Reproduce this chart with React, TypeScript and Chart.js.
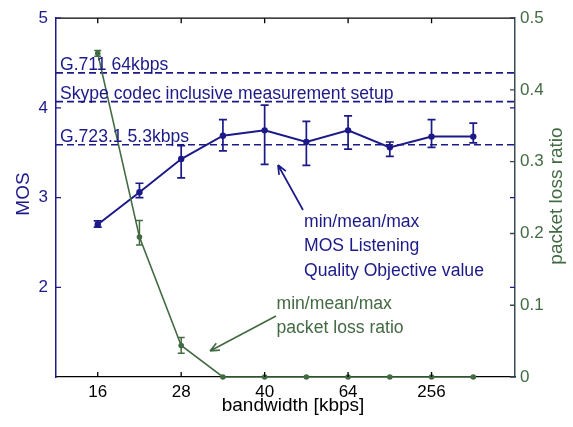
import React, { useEffect, useRef } from "react";
import { Chart, registerables } from "chart.js";
Chart.register(...registerables);

const categories = ["16", "", "28", "", "40", "", "64", "", "256", ""];
const labeledIdx = [0, 2, 4, 6, 8];
const mosMean = [2.7, 3.06, 3.43, 3.69, 3.75, 3.62, 3.75, 3.56, 3.68, 3.68];
const mosMin = [2.67, 3.0, 3.22, 3.52, 3.37, 3.36, 3.54, 3.46, 3.56, 3.61];
const mosMax = [2.74, 3.16, 3.58, 3.87, 4.03, 3.85, 3.91, 3.62, 3.87, 3.83];
const lossMean = [0.451, 0.195, 0.044, 0, 0, 0, 0, 0, 0, 0];
const lossMin = [0.447, 0.184, 0.033, 0, 0, 0, 0, 0, 0, 0];
const lossMax = [0.455, 0.218, 0.055, 0, 0, 0, 0, 0, 0, 0];
const refLabels = ["G.711 64kbps", "Skype codec inclusive measurement setup", "G.723.1 5.3kbps"];
const refLevels = [4.39, 4.07, 3.59];
const mosTicks = [2, 3, 4, 5];
const lossTicks = [0, 0.1, 0.2, 0.3, 0.4, 0.5];

const NAVY = "#1c1a88";
const GREEN = "#436b43";
const SLATE = "#3a4a52";
const FONT = "'Liberation Sans', Arial, sans-serif";

function arrow(ctx: CanvasRenderingContext2D, x0: number, y0: number, x1: number, y1: number, color: string) {
  ctx.save();
  ctx.strokeStyle = color;
  ctx.lineWidth = 1.7;
  ctx.beginPath();
  ctx.moveTo(x0, y0);
  ctx.lineTo(x1, y1);
  const a = Math.atan2(y1 - y0, x1 - x0);
  const L = 10;
  ctx.moveTo(x1, y1);
  ctx.lineTo(x1 - L * Math.cos(a - 0.4), y1 - L * Math.sin(a - 0.4));
  ctx.moveTo(x1, y1);
  ctx.lineTo(x1 - L * Math.cos(a + 0.4), y1 - L * Math.sin(a + 0.4));
  ctx.stroke();
  ctx.restore();
}

const decor = {
  id: "decor",
  afterDatasetsDraw(chart: any) {
    const { ctx } = chart;
    const xs = chart.scales.x, ys = chart.scales.y, y1s = chart.scales.y1;
    const drawErr = (mins: number[], maxs: number[], scale: any, color: string, cap: number, lw: number) => {
      ctx.save();
      ctx.strokeStyle = color;
      ctx.lineWidth = lw;
      mins.forEach((mn, i) => {
        const px = xs.getPixelForValue(i);
        const a = scale.getPixelForValue(mn);
        const b = scale.getPixelForValue(maxs[i]);
        if (Math.abs(a - b) < 0.5) return;
        ctx.beginPath();
        ctx.moveTo(px, a);
        ctx.lineTo(px, b);
        ctx.moveTo(px - cap, a);
        ctx.lineTo(px + cap, a);
        ctx.moveTo(px - cap, b);
        ctx.lineTo(px + cap, b);
        ctx.stroke();
      });
      ctx.restore();
    };
    drawErr(mosMin, mosMax, ys, NAVY, 4, 1.7);
    drawErr(lossMin, lossMax, y1s, GREEN, 3.5, 1.5);
  },
  afterDraw(chart: any) {
    const { ctx, chartArea: ca } = chart;
    const xs = chart.scales.x, ys = chart.scales.y, y1s = chart.scales.y1;
    ctx.save();
    ctx.strokeStyle = "#000";
    ctx.lineWidth = 1.3;
    ctx.beginPath();
    ctx.moveTo(ca.left, ca.top);
    ctx.lineTo(ca.right, ca.top);
    ctx.stroke();
    ctx.beginPath();
    labeledIdx.forEach((i) => {
      const px = xs.getPixelForValue(i);
      ctx.moveTo(px, ca.bottom);
      ctx.lineTo(px, ca.bottom - 5);
      ctx.moveTo(px, ca.top);
      ctx.lineTo(px, ca.top + 5);
    });
    ctx.stroke();
    ctx.strokeStyle = NAVY;
    ctx.beginPath();
    mosTicks.forEach((v) => {
      const py = ys.getPixelForValue(v);
      ctx.moveTo(ca.left, py);
      ctx.lineTo(ca.left + 5, py);
      ctx.moveTo(ca.right, py);
      ctx.lineTo(ca.right - 5, py);
    });
    ctx.stroke();
    ctx.strokeStyle = SLATE;
    ctx.beginPath();
    lossTicks.forEach((v) => {
      const py = y1s.getPixelForValue(v);
      ctx.moveTo(ca.right, py);
      ctx.lineTo(ca.right - 5, py);
    });
    ctx.stroke();

    ctx.fillStyle = NAVY;
    ctx.font = `17.6px ${FONT}`;
    ctx.textAlign = "left";
    ctx.textBaseline = "alphabetic";
    refLabels.forEach((t, i) => {
      ctx.fillText(t, ca.left + 4, ys.getPixelForValue(refLevels[i]) - 3);
    });

    ["min/mean/max", "MOS Listening", "Quality Objective value"].forEach((t, i) => {
      ctx.fillText(t, 304, 227 + i * 24.3);
    });
    arrow(ctx, 303, 210, 278, 165, NAVY);
    ctx.fillStyle = GREEN;
    ["min/mean/max", "packet loss ratio"].forEach((t, i) => {
      ctx.fillText(t, 276.5, 308.5 + i * 24.3);
    });
    arrow(ctx, 276, 316, 210, 351, GREEN);

    ctx.font = `19px ${FONT}`;
    ctx.textAlign = "center";
    ctx.textBaseline = "middle";
    ctx.fillStyle = "#000";
    ctx.fillText("bandwidth [kbps]", 293, 406);
    ctx.save();
    ctx.translate(24, 194);
    ctx.rotate(-Math.PI / 2);
    ctx.fillStyle = NAVY;
    ctx.fillText("MOS", 0, 0);
    ctx.restore();
    ctx.save();
    ctx.translate(557, 196);
    ctx.rotate(-Math.PI / 2);
    ctx.fillStyle = GREEN;
    ctx.fillText("packet loss ratio", 0, 0);
    ctx.restore();
    ctx.restore();
  },
};

export default function App() {
  const ref = useRef<HTMLCanvasElement>(null);
  useEffect(() => {
    if (!ref.current) return;
    Chart.defaults.font.family = FONT;
    const refSets = refLevels.map((v) => ({
      type: "line" as const,
      data: [
        { x: -1, y: v },
        { x: 10, y: v },
      ],
      yAxisID: "y",
      borderColor: NAVY,
      borderWidth: 1.6,
      borderDash: [7, 4],
      pointRadius: 0,
      clip: false as any,
      order: 3,
    }));
    const chart = new Chart(ref.current, {
      type: "line",
      data: {
        datasets: [
          ...refSets,
          {
            data: mosMean.map((v, i) => ({ x: i, y: v })),
            yAxisID: "y",
            borderColor: NAVY,
            backgroundColor: NAVY,
            borderWidth: 2,
            pointRadius: 3.2,
            pointBorderWidth: 0,
            clip: false as any,
            order: 2,
          },
          {
            data: lossMean.map((v, i) => ({ x: i, y: v })),
            yAxisID: "y1",
            borderColor: GREEN,
            backgroundColor: GREEN,
            borderWidth: 1.6,
            pointRadius: 2.8,
            pointBorderWidth: 0,
            clip: false as any,
            order: 1,
          },
        ],
      },
      options: {
        responsive: false,
        animation: false,
        layout: { padding: { top: 15, left: 0, right: 0, bottom: 0 } },
        plugins: { legend: { display: false }, tooltip: { enabled: false } },
        scales: {
          x: {
            type: "linear",
            min: -1,
            max: 10,
            grid: { display: false, drawTicks: false },
            border: { display: true, color: "#000", width: 1.3 },
            afterBuildTicks: (s: any) => {
              s.ticks = labeledIdx.map((v) => ({ value: v }));
            },
            afterFit: (s: any) => {
              s.height = 50;
            },
            ticks: {
              autoSkip: false,
              maxRotation: 0,
              padding: 5,
              color: "#000",
              font: { size: 17, family: FONT },
              callback: (v: any) => categories[Number(v)] ?? "",
            },
          },
          y: {
            type: "linear",
            position: "left",
            min: 1,
            max: 5,
            grid: { display: false, drawTicks: false },
            border: { display: true, color: NAVY, width: 1.5 },
            afterBuildTicks: (s: any) => {
              s.ticks = mosTicks.map((v) => ({ value: v }));
            },
            afterFit: (s: any) => {
              s.width = 56;
            },
            ticks: {
              autoSkip: false,
              padding: 8,
              color: NAVY,
              font: { size: 17, family: FONT },
              callback: (v: any) => String(v),
            },
          },
          y1: {
            type: "linear",
            position: "right",
            min: 0,
            max: 0.5,
            grid: { display: false, drawTicks: false },
            border: { display: true, color: SLATE, width: 1.5 },
            afterBuildTicks: (s: any) => {
              s.ticks = lossTicks.map((v) => ({ value: v }));
            },
            afterFit: (s: any) => {
              s.width = 58;
            },
            ticks: {
              autoSkip: false,
              padding: 5,
              color: GREEN,
              font: { size: 17, family: FONT },
              callback: (v: any) => (Number(v) === 0 ? "0" : Number(v).toFixed(1)),
            },
          },
        },
      },
      plugins: [decor],
    } as any);
    return () => chart.destroy();
  }, []);
  return (
    <div style={{ position: "fixed", left: 0, top: 0, width: 573, height: 427, background: "#fff" }}>
      <canvas ref={ref} width={573} height={427} style={{ display: "block" }} />
    </div>
  );
}
